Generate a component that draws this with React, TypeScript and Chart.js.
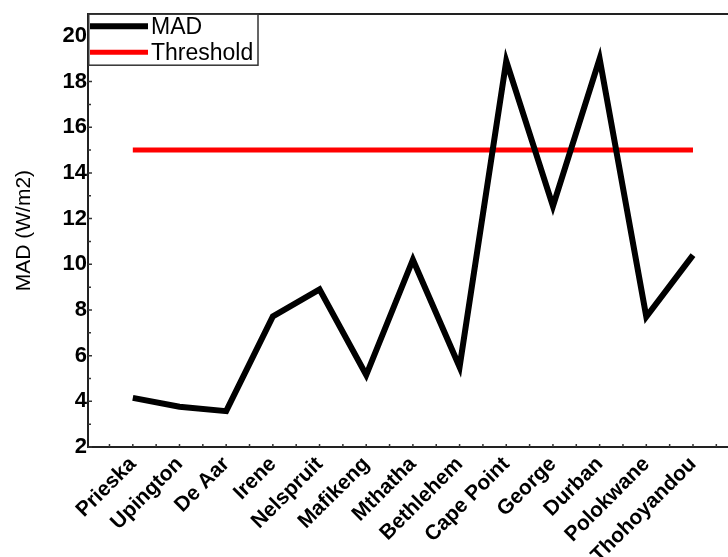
import { useEffect, useRef } from 'react';
import { Chart, registerables } from 'chart.js';

Chart.register(...registerables);

const categories = [
  'Prieska', 'Upington', 'De Aar', 'Irene', 'Nelspruit', 'Mafikeng', 'Mthatha',
  'Bethlehem', 'Cape Point', 'George', 'Durban', 'Polokwane', 'Thohoyandou',
];
const madValues = [4.15, 3.76, 3.57, 7.72, 8.9, 5.15, 10.2, 5.5, 18.9, 12.55, 19.0, 7.7, 10.4];
const thresholdValue = 15;
const yTickValues = [2, 4, 6, 8, 10, 12, 14, 16, 18, 20];
const yMinorValues = [3, 5, 7, 9, 11, 13, 15, 17, 19];
const seriesLabels = ['MAD', 'Threshold'];

const FONT = '"Liberation Sans", Arial, Helvetica, sans-serif';

const tickMarks = {
  id: 'tickMarks',
  afterDraw(chart: any) {
    const { ctx, chartArea, scales } = chart;
    const xs = scales.x;
    const ys = scales.y;
    ctx.save();
    ctx.strokeStyle = '#333';
    ctx.lineWidth = 1.5;
    ctx.beginPath();
    for (let v = Math.ceil(xs.min * 2) / 2; v <= xs.max; v += 0.5) {
      const px = xs.getPixelForValue(v);
      ctx.moveTo(px, chartArea.bottom);
      ctx.lineTo(px, chartArea.bottom - 3);
    }
    yTickValues.forEach((v) => {
      const py = ys.getPixelForValue(v);
      ctx.moveTo(chartArea.left, py);
      ctx.lineTo(chartArea.left + 4, py);
    });
    yMinorValues.forEach((v) => {
      const py = ys.getPixelForValue(v);
      ctx.moveTo(chartArea.left, py);
      ctx.lineTo(chartArea.left + 3, py);
    });
    ctx.stroke();
    ctx.restore();
  },
};

const boxLegend = {
  id: 'boxLegend',
  afterDraw(chart: any) {
    const { ctx, chartArea } = chart;
    const x0 = chartArea.left;
    const y0 = chartArea.top;
    const w = 170;
    const h = 51;
    ctx.save();
    ctx.fillStyle = '#fff';
    ctx.fillRect(x0, y0, w, h);
    ctx.strokeStyle = '#333';
    ctx.lineWidth = 1.5;
    ctx.strokeRect(x0 + 0.75, y0, w - 0.75, h);
    chart.data.datasets.forEach((ds: any, i: number) => {
      const cy = y0 + 12 + i * 26;
      ctx.strokeStyle = ds.borderColor;
      ctx.lineWidth = ds.borderWidth;
      ctx.beginPath();
      ctx.moveTo(x0 + 2, cy);
      ctx.lineTo(x0 + 60, cy);
      ctx.stroke();
      ctx.fillStyle = '#000';
      ctx.font = `23px ${FONT}`;
      ctx.textBaseline = 'middle';
      ctx.textAlign = 'left';
      ctx.fillText(ds.label, x0 + 63, cy + 1);
    });
    ctx.restore();
  },
};

export default function App() {
  const ref = useRef<HTMLCanvasElement | null>(null);

  useEffect(() => {
    if (!ref.current) return;
    const chart = new Chart(ref.current, {
      type: 'line',
      data: {
        datasets: [
          {
            label: seriesLabels[0],
            data: madValues.map((v, i) => ({ x: i, y: v })),
            borderColor: '#000000',
            borderWidth: 6,
            pointRadius: 0,
            tension: 0,
            borderJoinStyle: 'miter',
            borderCapStyle: 'butt',
            fill: false,
          },
          {
            label: seriesLabels[1],
            data: categories.map((_, i) => ({ x: i, y: thresholdValue })),
            borderColor: '#ff0000',
            borderWidth: 5,
            pointRadius: 0,
            tension: 0,
            borderCapStyle: 'butt',
            fill: false,
          },
        ],
      },
      options: {
        animation: false,
        responsive: false,
        maintainAspectRatio: false,
        layout: { padding: 0 },
        plugins: { legend: { display: false }, tooltip: { enabled: false } },
        scales: {
          x: {
            type: 'linear',
            position: 'bottom',
            min: -0.96,
            max: 12.75,
            afterBuildTicks: (scale: any) => {
              scale.ticks = categories.map((_, i) => ({ value: i }));
            },
            afterFit: (scale: any) => {
              scale.height = 110;
            },
            grid: { display: true, drawOnChartArea: false, drawTicks: false },
            border: { display: true, color: '#222', width: 2 },
            ticks: {
              autoSkip: false,
              maxRotation: 45,
              minRotation: 45,
              padding: 5,
              color: '#000',
              font: { family: FONT, size: 21, weight: 'bold' },
              callback: (v: any) => categories[Math.round(Number(v))] ?? '',
            },
          },
          xTop: {
            type: 'linear',
            position: 'top',
            min: -0.96,
            max: 12.75,
            afterFit: (scale: any) => {
              scale.height = 13;
            },
            grid: { display: false, drawOnChartArea: false, drawTicks: false },
            border: { display: true, color: '#222', width: 2 },
            ticks: { display: false },
          },
          y: {
            type: 'linear',
            position: 'left',
            min: 2,
            max: 20.95,
            afterBuildTicks: (scale: any) => {
              scale.ticks = yTickValues.map((v) => ({ value: v }));
            },
            afterFit: (scale: any) => {
              scale.width = 88;
            },
            grid: { display: true, drawOnChartArea: false, drawTicks: false },
            border: { display: true, color: '#222', width: 2 },
            ticks: {
              padding: 1,
              color: '#000',
              font: { family: FONT, size: 22, weight: 'bold' },
            },
            title: {
              display: true,
              text: 'MAD (W/m2)',
              color: '#000',
              font: { family: FONT, size: 21, lineHeight: 1.2 },
              padding: { top: 12, bottom: 0 },
            },
          },
        },
      },
      plugins: [tickMarks, boxLegend],
    } as any);
    return () => chart.destroy();
  }, []);

  return (
    <div style={{ position: 'absolute', left: 0, top: 0, width: 728, height: 557, background: '#fff' }}>
      <canvas ref={ref} width={728} height={557} style={{ width: 728, height: 557, display: 'block' }} />
    </div>
  );
}
